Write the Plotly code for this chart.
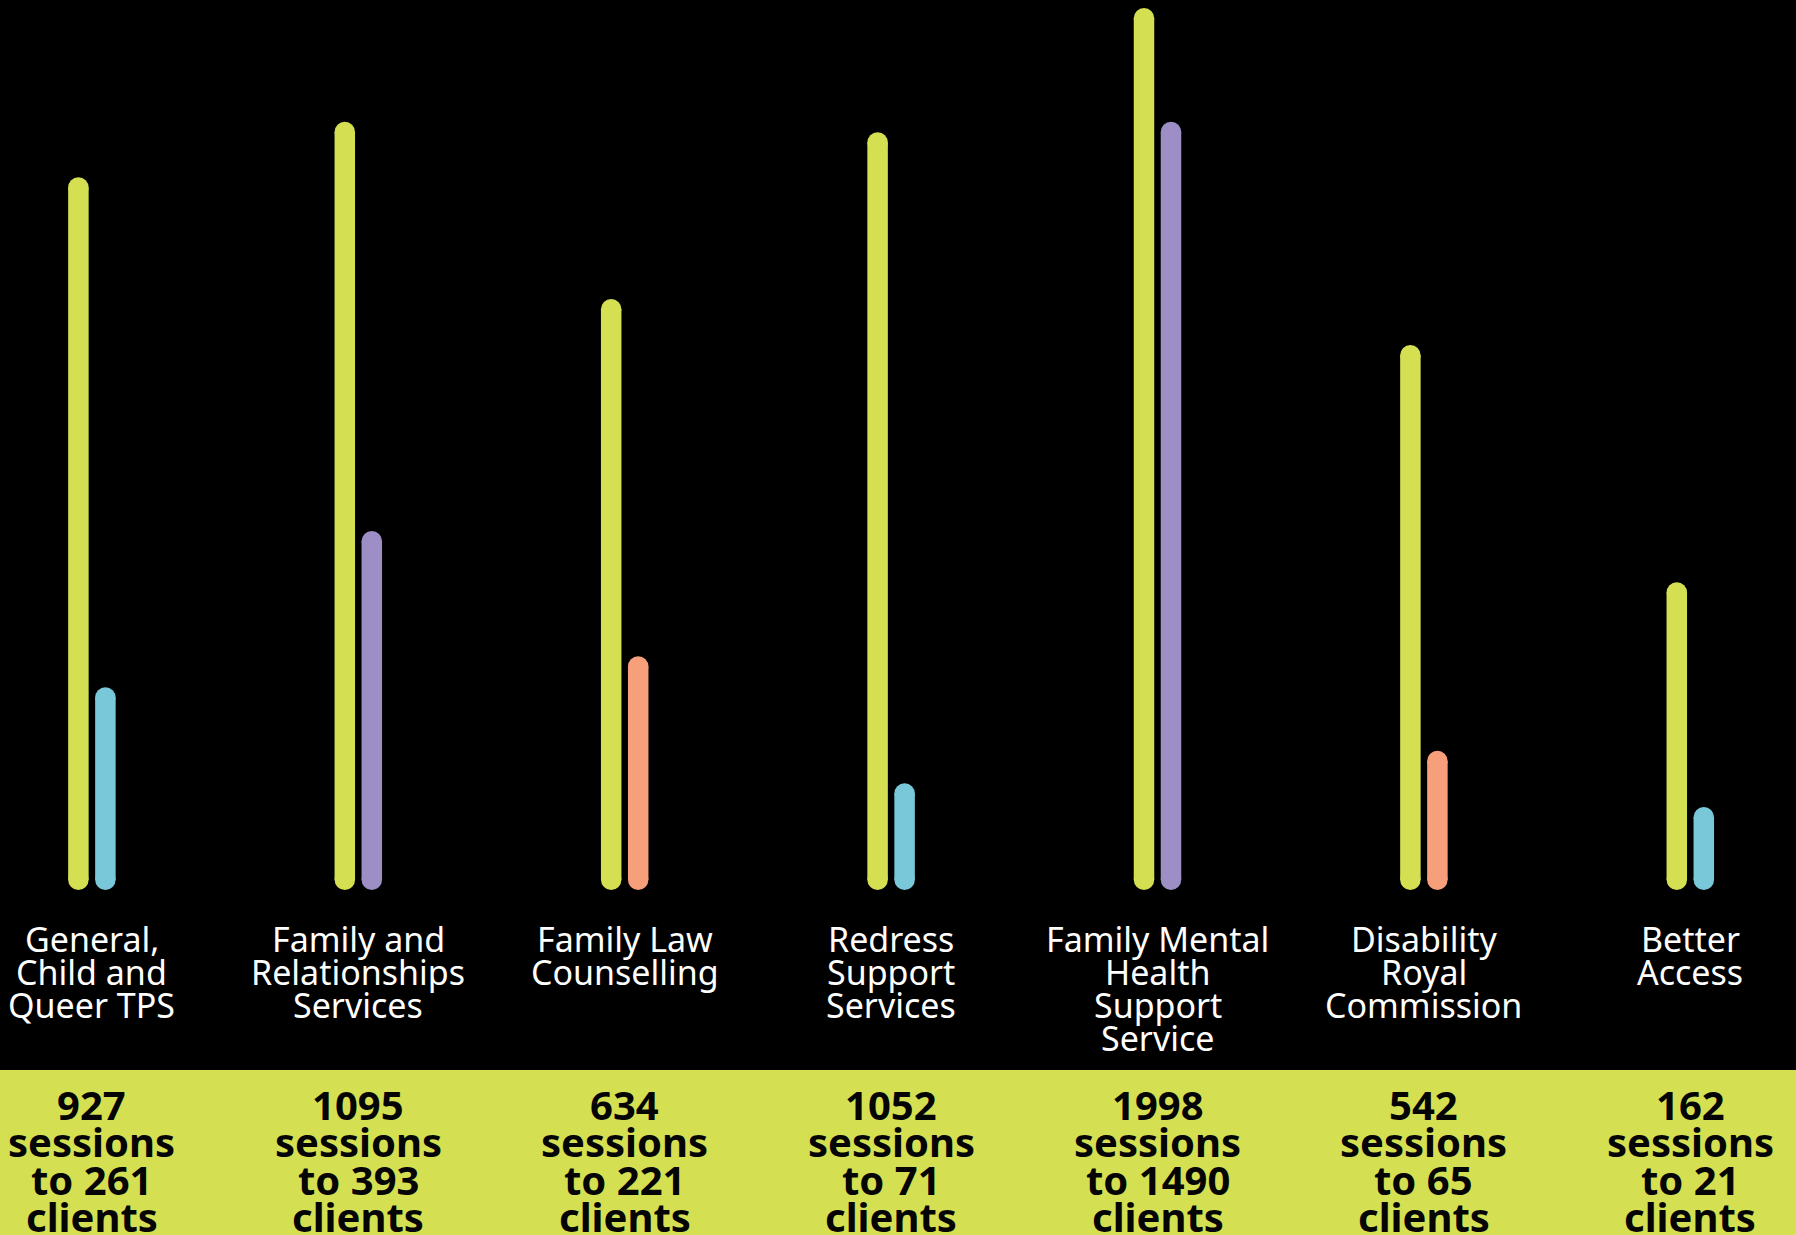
import plotly.graph_objects as go

# ---------------- data ----------------
programs = [
    ["General,", "Child and", "Queer TPS"],
    ["Family and", "Relationships", "Services"],
    ["Family Law", "Counselling"],
    ["Redress", "Support", "Services"],
    ["Family Mental", "Health", "Support", "Service"],
    ["Disability", "Royal", "Commission"],
    ["Better", "Access"],
]
sessions = [927, 1095, 634, 1052, 1998, 542, 162]
clients = [261, 393, 221, 71, 1490, 65, 21]
# bar lengths (tallest bar = 100)
sessions_bar = [80.8, 87.1, 67.0, 85.9, 100.0, 61.8, 34.9]
clients_bar = [23.0, 40.7, 26.5, 12.1, 87.1, 15.8, 9.4]

# ---------------- styles ----------------
YELLOW = "#D4E052"
BLUE = "#79C8D9"
PURPLE = "#9D8FC6"
ORANGE = "#F79E7B"
client_colors = [BLUE, PURPLE, ORANGE, BLUE, PURPLE, ORANGE, BLUE]

W, H = 1796, 1235
BASE_PX = 890        # pixel row of bar bottoms
TOP_PX = 8           # pixel row of value 100
FIRST_PX = 91.9      # pixel centre of first group
STEP_PX = 266.4      # pixel distance between groups
BAR_W = 20.5         # bar thickness in px
PAIR_OFF = 13.5      # px offset of each bar from group centre
STRIP_TOP = 1070     # pixel row where bottom strip starts

ppu_y = (BASE_PX - TOP_PX) / 100.0
y_lo = -(H - BASE_PX) / ppu_y
y_hi = 100 + TOP_PX / ppu_y
x_lo = -FIRST_PX / STEP_PX
x_hi = (W - FIRST_PX) / STEP_PX
r_y = (BAR_W / 2) / ppu_y
off_x = PAIR_OFF / STEP_PX

fig = go.Figure()


def add_bar(xc, h, color):
    fig.add_trace(go.Scatter(
        x=[xc, xc], y=[r_y, h - r_y], mode="lines+markers",
        line=dict(color=color, width=BAR_W),
        marker=dict(color=color, size=BAR_W, line=dict(width=0)),
        hoverinfo="skip", showlegend=False,
    ))


for i in range(len(programs)):
    add_bar(i - off_x, sessions_bar[i], YELLOW)
    add_bar(i + off_x, clients_bar[i], client_colors[i])

annotations = []
LABEL_Y0, LABEL_DY = 939, 32.9
for i, lines in enumerate(programs):
    for j, t in enumerate(lines):
        annotations.append(dict(
            x=i, xref="x", y=1 - (LABEL_Y0 + j * LABEL_DY) / H, yref="paper",
            text=t, showarrow=False, xanchor="center", yanchor="middle",
            font=dict(family="Noto Sans", size=34, color="#FFFFFF"),
        ))

STAT_Y0, STAT_DY = 1104, 37.6
for i in range(len(programs)):
    stat_lines = [f"{sessions[i]}", "sessions", f"to {clients[i]}", "clients"]
    for j, t in enumerate(stat_lines):
        annotations.append(dict(
            x=i, xref="x", y=1 - (STAT_Y0 + j * STAT_DY) / H, yref="paper",
            text=f"<b>{t}</b>", showarrow=False, xanchor="center", yanchor="middle",
            font=dict(family="Noto Sans", size=40, color="#050505"),
        ))

fig.update_layout(
    width=W, height=H,
    margin=dict(l=0, r=0, t=0, b=0),
    paper_bgcolor="#000000", plot_bgcolor="#000000",
    xaxis=dict(range=[x_lo, x_hi], visible=False, fixedrange=True),
    yaxis=dict(range=[y_lo, y_hi], visible=False, fixedrange=True),
    shapes=[dict(type="rect", xref="paper", yref="paper", x0=0, x1=1,
                 y0=0, y1=1 - STRIP_TOP / H, fillcolor=YELLOW,
                 line=dict(width=0), layer="below")],
    annotations=annotations,
    showlegend=False,
)

fig.write_html("out.html", config={"displayModeBar": False})
